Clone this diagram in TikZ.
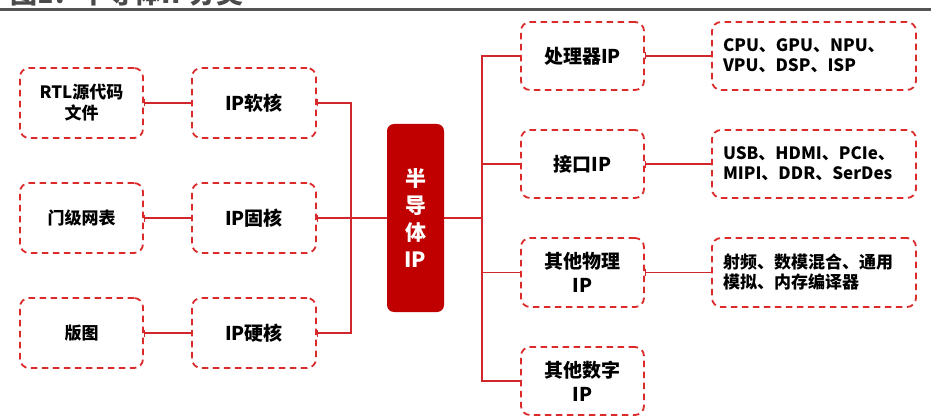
\documentclass[tikz,border=0pt]{standalone}
\usepackage{fontspec}
\setmainfont{Noto Sans CJK SC}
\usetikzlibrary{arrows.meta}
\definecolor{boxred}{HTML}{C00000}
\definecolor{dred}{HTML}{DA2A2A}
\definecolor{lred}{HTML}{D0262C}
\definecolor{titlegray}{HTML}{4A4A4A}
\definecolor{rulegray}{HTML}{555555}
\begin{document}
\begin{tikzpicture}[x=1pt,y=-1pt,
  dbox/.style={draw=dred, line width=1.8pt, dash pattern=on 6.5pt off 4.5pt,
    rounded corners=9pt, align=center, inner sep=0pt, text=black},
  lbox/.style={dbox, minimum width=123pt, minimum height=70pt, font=\fontsize{17}{21}\selectfont\bfseries},
  mbox/.style={dbox, minimum width=124pt, minimum height=70pt, font=\fontsize{19}{24}\selectfont\bfseries},
  rmid/.style={dbox, minimum width=123pt, minimum height=68pt, font=\fontsize{19}{24}\selectfont\bfseries},
  rbox/.style={dbox, align=left, text width=182pt, inner xsep=11pt, minimum height=68pt, font=\fontsize{17}{20}\selectfont\bfseries},
  conn/.style={draw=lred, line width=1.8pt},
  tick/.style={conn, {Bar[width=7pt,line width=1.5pt]}-}
]
\useasboundingbox (0,0) rectangle (931,417);
\clip (0,0) rectangle (931,417);
% title (cut off at top) and rule
\node[anchor=base west, inner sep=0pt, text=titlegray, font=\fontsize{27}{30}\selectfont\bfseries] (title) at (10,4) {图1：半导体IP分类};
\fill[rulegray] (0,8) rectangle (931,11);
% left column
\node[lbox] (rtl) at (81.5,103) {RTL源代码\\文件};
\node[lbox] (gate) at (81.5,218) {门级网表};
\node[lbox] (layout) at (81.5,333) {版图};
\node[mbox] (soft) at (254,103) {IP软核};
\node[mbox] (firm) at (254,218) {IP固核};
\node[mbox] (hard) at (254,333) {IP硬核};
% core
\node[fill=boxred, rounded corners=7pt, minimum width=57pt, minimum height=188pt, inner sep=0pt,
  text=white, align=center, font=\fontsize{21}{27}\selectfont\bfseries] (core) at (415.5,218) {半\\导\\体\\IP};
% right column
\node[rmid] (proc) at (582.5,56) {处理器IP};
\node[rmid] (iface) at (582.5,164) {接口IP};
\node[rmid, minimum height=69pt] (phys) at (582.5,272.5) {其他物理\\IP};
\node[rmid] (dig) at (582.5,381) {其他数字\\IP};
\node[rbox] (procd) at (814,56) {CPU、GPU、NPU、\\VPU、DSP、ISP};
\node[rbox] (ifaced) at (814,164) {USB、HDMI、PCIe、\\MIPI、DDR、SerDes};
\node[rbox, minimum height=69pt] (physd) at (814,272.5) {射频、数模混合、通用\\模拟、内存编译器};
% bus coordinates
\coordinate (busL) at (351,218);
\coordinate (busR) at (482,218);
% connectors
\draw[tick] (rtl.east) -- (soft.west);
\draw[tick] (gate.east) -- (firm.west);
\draw[tick] (layout.east) -- (hard.west);
\draw[tick] (soft.east) -| (busL);
\draw[tick] (hard.east) -| (busL);
\draw[tick] (firm.east) -- (core.west);
\draw[conn] (core.east) -- (busR);
\draw[conn] (proc.west) -| (busR);
\draw[conn] (dig.west) -| (busR);
\draw[conn] (iface.west) -| (busR);
\draw[conn] (phys.west) -| (busR);
\draw[tick] (proc.east) -- (procd.west);
\draw[tick] (iface.east) -- (ifaced.west);
\draw[tick] (phys.east) -- (physd.west);
\end{tikzpicture}
\end{document}
